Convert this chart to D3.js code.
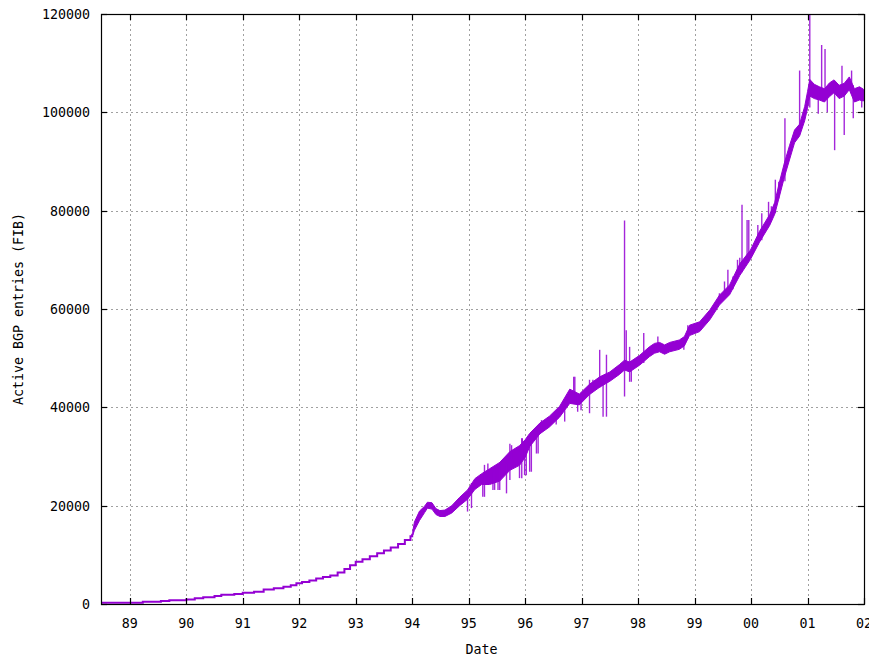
<!DOCTYPE html>
<html>
<head>
<meta charset="utf-8">
<script src="https://cdn.jsdelivr.net/npm/d3@7"></script>
<style>
  html, body { margin: 0; padding: 0; background: #fff; }
  svg { display: block; }
  text { font-family: "DejaVu Sans Mono", "Liberation Mono", monospace; font-size: 13.3px; fill: #000; }
</style>
</head>
<body>
<svg id="chart" width="869" height="659"></svg>
<script>
// ---- Data (years as two-digit decimal years, 100 = 2000) ----
const xTickValues = [89, 90, 91, 92, 93, 94, 95, 96, 97, 98, 99, 100, 101, 102];
const xTickLabels = ["89", "90", "91", "92", "93", "94", "95", "96", "97", "98", "99", "00", "01", "02"];
const yTickValues = [0, 20000, 40000, 60000, 80000, 100000, 120000];
const yTickLabels = ["0", "20000", "40000", "60000", "80000", "100000", "120000"];

// Early period (1988-1994): staircase series
const stepYears = [88.49, 89.23, 89.55, 89.70, 90.00, 90.15, 90.30, 90.50, 90.62, 90.85, 91.00, 91.20,
  91.37, 91.55, 91.72, 91.85, 91.95, 92.05, 92.18, 92.30, 92.42, 92.55, 92.68, 92.80, 92.90, 93.00,
  93.12, 93.25, 93.38, 93.50, 93.62, 93.75, 93.87, 93.97, 94.00];
const stepValues = [250, 470, 620, 750, 900, 1150, 1350, 1650, 1900, 2050, 2300, 2500,
  2950, 3200, 3500, 3800, 4200, 4500, 4800, 5200, 5500, 5800, 6400, 7100, 7900, 8600,
  9100, 9700, 10300, 10900, 11500, 12200, 13000, 13800, 14300];

// Later period (1994-2002): noisy band, low / high envelope
const bandYears = [94.01, 94.04, 94.13, 94.22, 94.27, 94.35, 94.42, 94.49, 94.58, 94.70, 94.84, 94.98,
  95.11, 95.23, 95.37, 95.55, 95.73, 95.90, 96.00, 96.08, 96.26, 96.43, 96.61, 96.79, 96.96, 97.14, 97.32,
  97.50, 97.67, 97.76, 97.85, 98.03, 98.20, 98.29, 98.38, 98.47, 98.56, 98.73, 98.82, 98.91, 99.09,
  99.27, 99.44, 99.62, 99.80, 99.99, 100.15, 100.33, 100.42, 100.50, 100.59, 100.68, 100.77, 100.86,
  100.95, 101.00, 101.04, 101.12, 101.21, 101.30, 101.39, 101.47, 101.56, 101.65, 101.74, 101.83,
  101.92, 101.99];
const bandLow = [14000, 15000, 17000, 18600, 19500, 19300, 18200, 17800, 17800, 18500, 20000, 21300,
  23300, 24300, 24300, 25000, 27200, 28200, 29800, 32000, 34600, 36000, 38000, 40800, 40500, 42600, 44100,
  45300, 46700, 47600, 47200, 48600, 50300, 51000, 51300, 50800, 51300, 51800, 52500, 54600, 55400,
  57800, 60800, 62900, 66800, 70100, 73600, 77000, 79300, 82800, 86800, 90300, 93800, 95200,
  98300, 100800, 103300, 102800, 102500, 102100, 103200, 104000, 102800, 103300, 104600, 102100,
  102500, 102300];
const bandHigh = [14800, 16700, 18900, 19900, 20700, 20600, 19400, 19000, 19100, 20000, 21700, 23200,
  25500, 26500, 27500, 28800, 31000, 32200, 33400, 34700, 36800, 38200, 40200, 43700, 42700, 44700, 46200,
  47200, 48700, 49600, 49200, 50600, 52300, 53000, 53200, 52700, 53200, 53700, 54400, 56700, 57400,
  59800, 62800, 64900, 69200, 72000, 75800, 79200, 81700, 85700, 89700, 93200, 96400, 97600,
  101200, 104200, 106700, 105700, 105200, 104800, 106000, 106600, 105500, 105900, 107200, 104800,
  105200, 104700];

// Outlier spikes: year, lowest and highest value reached
const spikeYears = [94.98, 95.05, 95.25, 95.28, 95.34, 95.43, 95.46, 95.52, 95.55, 95.67, 95.73, 95.76,
  95.90, 95.94, 95.95, 95.99, 96.02, 96.08, 96.11, 96.20, 96.23, 96.29, 96.55, 96.70, 96.86, 96.88,
  96.93, 96.99, 97.14, 97.20, 97.32, 97.38, 97.44, 97.76, 97.79, 97.85, 97.88, 98.10, 98.35, 98.81,
  98.88, 99.44, 99.53, 99.59, 99.68, 99.76, 99.80, 99.84, 99.93, 99.96, 100.12, 100.19, 100.31,
  100.36, 100.43, 100.49, 100.60, 100.86, 101.04, 101.19, 101.25, 101.31, 101.35, 101.48, 101.61,
  101.65, 101.78, 101.81, 101.96];
const spikeLow = [18800, 19500, 21800, 21800, 26000, 23200, 23200, 23200, 23200, 22500, 25200, 29500,
  25600, 25600, 30000, 26200, 26200, 26900, 26900, 30600, 30600, 35000, 36500, 37100, 42000, 42000,
  39100, 39400, 38800, 43500, 44000, 38100, 38100, 42200, 48000, 45200, 45200, 49000, 51500, 51700,
  54000, 61000, 63000, 63500, 64000, 66500, 67000, 67500, 70000, 70500, 73000, 74000, 77000,
  78000, 79500, 82500, 86000, 95500, 101000, 99700, 103000, 103000, 100000, 92300, 103500,
  95400, 104000, 98800, 101000];
const spikeHigh = [22500, 24600, 25500, 28300, 28600, 27000, 27500, 27500, 28900, 28500, 32600, 32300,
  31000, 33700, 33700, 31500, 32000, 33500, 33000, 35000, 35000, 37400, 38100, 39500, 46200, 46200,
  42500, 42500, 45600, 45600, 51700, 46000, 50700, 78000, 55700, 52300, 49000, 55100, 54400, 53500,
  56700, 63200, 65600, 68000, 66600, 70000, 70400, 81200, 78100, 78100, 77100, 79500, 81800,
  80900, 86300, 85900, 98800, 108500, 121000, 105000, 113700, 112900, 104500, 105500, 109500,
  105000, 108500, 105500, 104800];

// ---- Layout ----
const svg = d3.select("#chart");
const mLeft = 101, mRight = 864, mTop = 14, mBottom = 604;
const color = "#9400d3";

const x = d3.scaleLinear().domain([88.49, 102.0]).range([mLeft, mRight]);
const y = d3.scaleLinear().domain([0, 120000]).range([mBottom, mTop]);

svg.append("defs").append("clipPath").attr("id", "plotclip")
  .append("rect").attr("x", mLeft).attr("y", mTop).attr("width", mRight - mLeft).attr("height", mBottom - mTop);

// Grid
const grid = svg.append("g").attr("stroke", "#a0a0a0").attr("stroke-width", 1).attr("stroke-dasharray", "2,3");
xTickValues.filter(v => x(v) > mLeft + 1 && x(v) < mRight - 1).forEach(v => {
  grid.append("line").attr("x1", Math.round(x(v)) + 0.5).attr("x2", Math.round(x(v)) + 0.5)
    .attr("y1", mTop).attr("y2", mBottom);
});
yTickValues.filter(v => y(v) > mTop + 1 && y(v) < mBottom - 1).forEach(v => {
  grid.append("line").attr("y1", Math.round(y(v)) + 0.5).attr("y2", Math.round(y(v)) + 0.5)
    .attr("x1", mLeft).attr("x2", mRight);
});

// Data
const plot = svg.append("g").attr("clip-path", "url(#plotclip)");

const steps = stepYears.map((t, i) => [t, stepValues[i]]);
plot.append("path").datum(steps)
  .attr("fill", "none").attr("stroke", color).attr("stroke-width", 2)
  .attr("d", d3.line().x(d => x(d[0])).y(d => y(d[1])).curve(d3.curveStepAfter));

const band = bandYears.map((t, i) => ({ t, lo: bandLow[i], hi: bandHigh[i] }));
plot.append("path").datum(band)
  .attr("fill", color).attr("stroke", color).attr("stroke-width", 1)
  .attr("d", d3.area().x(d => x(d.t)).y0(d => y(d.lo)).y1(d => y(d.hi)));

const spikes = spikeYears.map((t, i) => ({ t, lo: spikeLow[i], hi: spikeHigh[i] }));
plot.selectAll("line.spike").data(spikes).enter().append("line")
  .attr("class", "spike")
  .attr("x1", d => x(d.t)).attr("x2", d => x(d.t))
  .attr("y1", d => y(d.lo)).attr("y2", d => y(d.hi))
  .attr("stroke", color).attr("stroke-width", 1.4).attr("stroke-opacity", 0.85);

// Border
svg.append("rect").attr("x", mLeft + 0.5).attr("y", mTop + 0.5)
  .attr("width", mRight - mLeft).attr("height", mBottom - mTop)
  .attr("fill", "none").attr("stroke", "#000").attr("stroke-width", 1.2);

// Ticks (inward, mirrored)
const ticks = svg.append("g").attr("stroke", "#000").attr("stroke-width", 1.2);
const tl = 6;
xTickValues.forEach(v => {
  const px = Math.round(x(v)) + 0.5;
  ticks.append("line").attr("x1", px).attr("x2", px).attr("y1", mBottom).attr("y2", mBottom - tl);
  ticks.append("line").attr("x1", px).attr("x2", px).attr("y1", mTop).attr("y2", mTop + tl);
});
yTickValues.forEach(v => {
  const py = Math.round(y(v)) + 0.5;
  ticks.append("line").attr("y1", py).attr("y2", py).attr("x1", mLeft).attr("x2", mLeft + tl);
  ticks.append("line").attr("y1", py).attr("y2", py).attr("x1", mRight).attr("x2", mRight - tl);
});

// Tick labels
xTickValues.forEach((v, i) => {
  svg.append("text").attr("x", x(v)).attr("y", 628).attr("text-anchor", "middle").text(xTickLabels[i]);
});
yTickValues.forEach((v, i) => {
  svg.append("text").attr("x", 90).attr("y", y(v) + 5).attr("text-anchor", "end").text(yTickLabels[i]);
});

// Axis titles
svg.append("text").attr("x", (mLeft + mRight) / 2 - 1).attr("y", 654).attr("text-anchor", "middle").text("Date");
svg.append("text").attr("transform", `translate(23, ${(mTop + mBottom) / 2}) rotate(-90)`)
  .attr("text-anchor", "middle").text("Active BGP entries (FIB)");
</script>
</body>
</html>
